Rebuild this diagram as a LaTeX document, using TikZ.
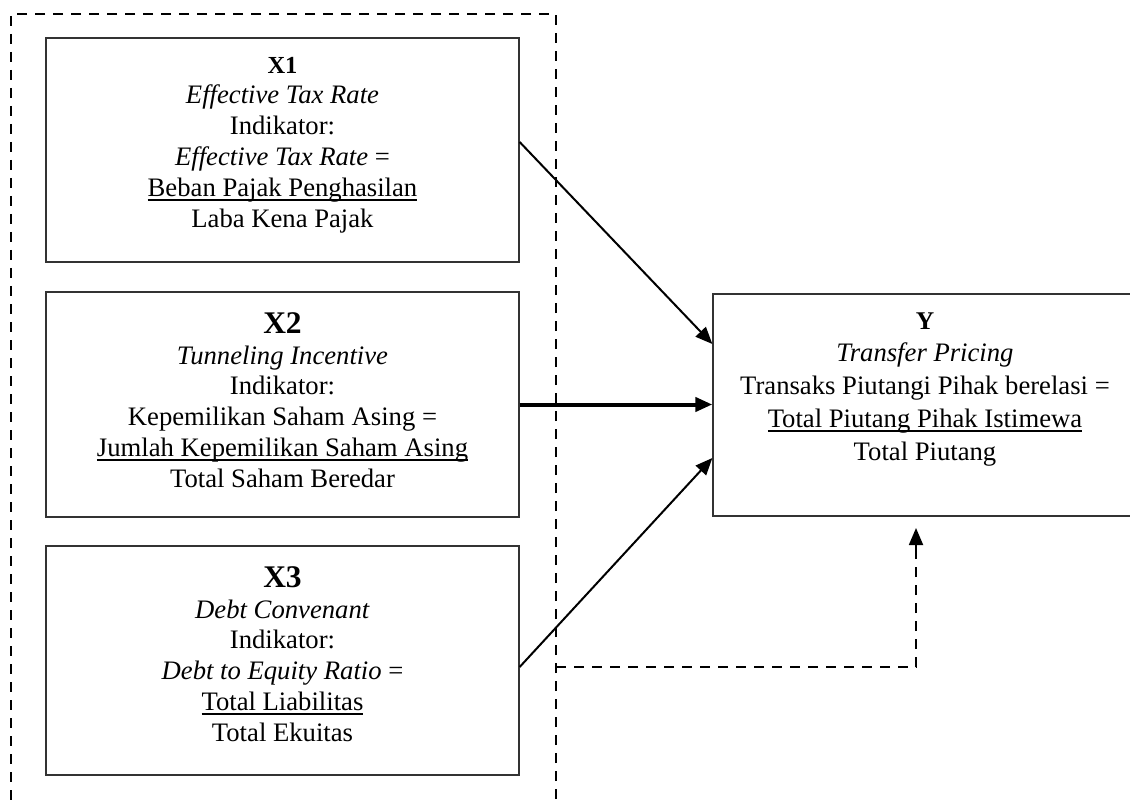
\documentclass[tikz,border=0pt]{standalone}
\usepackage{fontspec}
\setmainfont{Liberation Serif}
\usetikzlibrary{arrows.meta}
\newcommand\uln[1]{{\setbox0\hbox{#1}\rlap{\rule[-4.3pt]{\wd0}{1.9pt}}\box0}}
\begin{document}
\begin{tikzpicture}[x=1pt,y=-1pt,
  box/.style={draw=black!80, line width=1.3pt, inner sep=0pt},
  grpbox/.style={draw=black, line width=1.6pt, dash pattern=on 10pt off 8pt, inner sep=0pt},
  txt/.style={inner sep=0pt, align=center, anchor=north, font=\fontsize{26.67}{30.8}\selectfont},
  ytxt/.style={inner sep=0pt, align=center, anchor=north, font=\fontsize{26.67}{32.75}\selectfont},
  arr/.style={line width=2pt, -{Triangle[length=17pt,width=14pt]}},
  dashline/.style={line width=1.8pt, dash pattern=on 10pt off 8pt}]
\useasboundingbox (0,0) rectangle (1130,805);
\clip (0,0) rectangle (1130,805);
% group frame (open at the bottom of the picture)
\node[grpbox, minimum width=545pt, minimum height=816pt] (grp) at (283.5,422) {};
% boxes
\node[box, minimum width=473pt, minimum height=224pt] (x1) at (282.5,150) {};
\node[box, minimum width=473pt, minimum height=225pt] (x2) at (282.5,404.5) {};
\node[box, minimum width=473pt, minimum height=229pt] (x3) at (282.5,660.5) {};
\node[box, minimum width=424pt, minimum height=222pt] (y) at (925,405) {};
% texts
\node[txt] (x1t) at (282.5,53) {%
  {\fontsize{24.5}{30.8}\selectfont\bfseries\rule{0pt}{20pt}X1}\\
  \textit{Effective Tax Rate}\\
  Indikator:\\
  \textit{Effective Tax Rate} =\\
  \uln{Beban Pajak Penghasilan}\\
  Laba Kena Pajak};
\node[txt] (x2t) at (282.5,310) {%
  {\fontsize{31.5}{30.8}\selectfont\bfseries\rule{0pt}{23pt}X2}\\
  \textit{Tunneling Incentive}\\
  Indikator:\\
  Kepemilikan Saham Asing =\\
  \uln{Jumlah Kepemilikan Saham Asing}\\
  Total Saham Beredar};
\node[txt] (x3t) at (282.5,564) {%
  {\fontsize{31.5}{30.8}\selectfont\bfseries\rule{0pt}{23pt}X3}\\
  \textit{Debt Convenant}\\
  Indikator:\\
  \textit{Debt to Equity Ratio} =\\
  \uln{Total Liabilitas}\\
  Total Ekuitas};
\node[ytxt] (yt) at (925,309) {%
  {\fontsize{25.5}{32.75}\selectfont\bfseries\rule{0pt}{20pt}Y}\\
  \textit{Transfer Pricing}\\
  Transaks Piutangi Pihak berelasi =\\
  \uln{Total Piutang Pihak Istimewa}\\
  Total Piutang};
% connectors
\draw[arr] ([yshift=8pt]x1.east) -- ([yshift=61pt]y.west);
\draw[arr, line width=4pt] (x2.east) -- (x2.east -| y.west);
\draw[arr] ([yshift=-6.5pt]x3.east) -- ([yshift=-53pt]y.west);
\coordinate (d0) at (556,667);
\coordinate (d1) at (916,667);
\coordinate (d3) at (916,558);
\coordinate (d2) at (916,528);
\draw[dashline] (d0) -- (d1) -- (d3);
\draw[line width=1.8pt, -{Triangle[length=17pt,width=14pt]}] (d3) -- (d2);
\end{tikzpicture}
\end{document}
